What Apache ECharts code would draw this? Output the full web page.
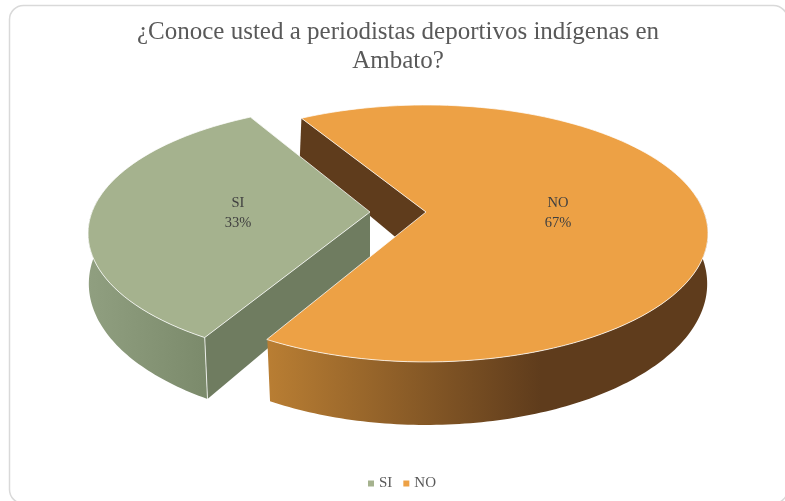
<!DOCTYPE html>
<html>
<head>
<meta charset="utf-8">
<style>
html, body { margin: 0; padding: 0; background: #fff; }
#main { width: 785px; height: 501px; }
</style>
<script src="https://cdn.jsdelivr.net/npm/echarts@6/dist/echarts.min.js"></script>
</head>
<body>
<div id="main"></div>
<script>
// datos de la encuesta
var categories = ['SI', 'NO'];
var values = [33.3, 66.7];
var titleText = '¿Conoce usted a periodistas deportivos indígenas en\nAmbato?';

var total = values[0] + values[1];
var firstAngle = 120.6;
var sliceTwist = [0, -1.3]; // pequeño giro de cada porcion respecto a la perspectiva

// proyeccion del disco (perspectiva simple)
var baseX = 398, explode = 28;
var topPlane = { y: 212, a: 124.9, k: -0.167, c: 278 };
var bottomPlane = { y: 262.6, a: 138, k: -0.15, c: 278 };

function project(plane, dx, deg) {
    var t = deg * Math.PI / 180;
    var u = Math.cos(t), v = Math.sin(t);
    var d = 1 + plane.k * v;
    return [baseX + dx + plane.c * u / d, plane.y + plane.a * v / d];
}
function arc(plane, dx, from, to) {
    var pts = [];
    for (var a = from; a < to; a += 2) {
        pts.push(project(plane, dx, a));
    }
    pts.push(project(plane, dx, to));
    return pts;
}
function poly(points, fill, z2) {
    return { type: 'polygon', z2: z2, shape: { points: points }, style: { fill: fill } };
}
function grad(c0, c1, mid) {
    var stops = [{ offset: 0, color: c0 }];
    if (mid) stops.push({ offset: mid, color: c1 });
    stops.push({ offset: 1, color: c1 });
    return new echarts.graphic.LinearGradient(0, 0, 1, 0, stops);
}

// cada porcion: pared cortada, pared exterior, cara superior y etiqueta
function sliceRenderer(index, topColor, cutColor, wallFill, order) {
    return function (params, api) {
        var before = index === 0 ? 0 : values[0];
        var from = firstAngle + before / total * 360 + sliceTwist[index];
        var to = from + api.value(0) / total * 360;
        var mid = (from + to) / 2;
        var dx = explode * Math.cos(mid * Math.PI / 180);
        var children = [];

        var top = arc(topPlane, dx, from, to);
        var apexTop = [baseX + dx, topPlane.y];
        var apexBottom = [baseX + dx, bottomPlane.y];

        // pared cortada visible: el primer borde de cada porcion
        children.push(poly([
            project(topPlane, dx, from), apexTop, apexBottom, project(bottomPlane, dx, from)
        ], cutColor, order.cut));

        // pared exterior, solo la mitad delantera
        var front = [], back = [];
        for (var a = from; a <= to; a += 1) {
            if (Math.sin(a * Math.PI / 180) > -0.12) {
                front.push(project(topPlane, dx, a));
                back.unshift(project(bottomPlane, dx, a));
            }
        }
        children.push(poly(front.concat(back), wallFill, order.wall));

        // arista blanca de la pared
        if (index === 0) {
            children.push({
                type: 'line', z2: order.wall + 1,
                shape: {
                    x1: project(topPlane, dx, from)[0], y1: project(topPlane, dx, from)[1],
                    x2: project(bottomPlane, dx, from)[0], y2: project(bottomPlane, dx, from)[1]
                },
                style: { stroke: 'rgba(255,255,255,0.8)', lineWidth: 1 }
            });
        }

        // cara superior
        children.push({
            type: 'polygon', z2: order.top,
            shape: { points: top.concat([apexTop]) },
            style: { fill: topColor, stroke: 'rgba(255,255,255,0.75)', lineWidth: 1, lineJoin: 'round' }
        });

        // etiqueta
        children.push({
            type: 'text', z2: order.top + 1,
            x: baseX + dx + 0.475 * topPlane.c * Math.cos(mid * Math.PI / 180),
            y: topPlane.y + 1.5,
            style: {
                text: categories[index] + '\n' + Math.round(api.value(0) / total * 100) + '%',
                fill: '#404040',
                font: '14.5px "Liberation Serif"',
                lineHeight: 20,
                align: 'center',
                verticalAlign: 'middle'
            }
        });
        return { type: 'group', children: children };
    };
}

var myChart = echarts.init(document.getElementById('main'));

var option = {
    animation: false,
    backgroundColor: '#fff',
    color: ['#a5b28e', '#eda145'],
    title: {
        text: titleText,
        left: 393,
        top: 13,
        textAlign: 'center',
        textStyle: {
            color: '#595959',
            fontFamily: 'Liberation Serif',
            fontWeight: 'normal',
            fontSize: 25,
            lineHeight: 29
        }
    },
    legend: {
        data: categories,
        left: 363,
        top: 471,
        icon: 'rect',
        itemWidth: 6,
        itemHeight: 6,
        itemGap: 11,
        selectedMode: false,
        textStyle: {
            color: '#595959',
            fontFamily: 'Liberation Serif',
            fontSize: 15,
            padding: [0, 0, 0, 0]
        }
    },
    graphic: [{
        type: 'rect',
        silent: true,
        z: 0,
        shape: { x: 9.5, y: 5.5, width: 778, height: 498, r: 14 },
        style: { fill: 'none', stroke: '#d9d9d9', lineWidth: 1.5 }
    }],
    series: [
        {
            type: 'custom',
            name: categories[0],
            coordinateSystem: 'none',
            silent: true,
            data: [values[0]],
            renderItem: sliceRenderer(0, '#a5b28e', '#6f7c60', grad('#909f80', '#7b8a6b'), { cut: 20, wall: 21, top: 23 })
        },
        {
            type: 'custom',
            name: categories[1],
            coordinateSystem: 'none',
            silent: true,
            data: [values[1]],
            renderItem: sliceRenderer(1, '#eda145', '#5f3c1c', grad('#b97e33', '#5f3c1c', 0.62), { cut: 10, wall: 30, top: 32 })
        }
    ]
};
myChart.setOption(option);
</script>
</body>
</html>
